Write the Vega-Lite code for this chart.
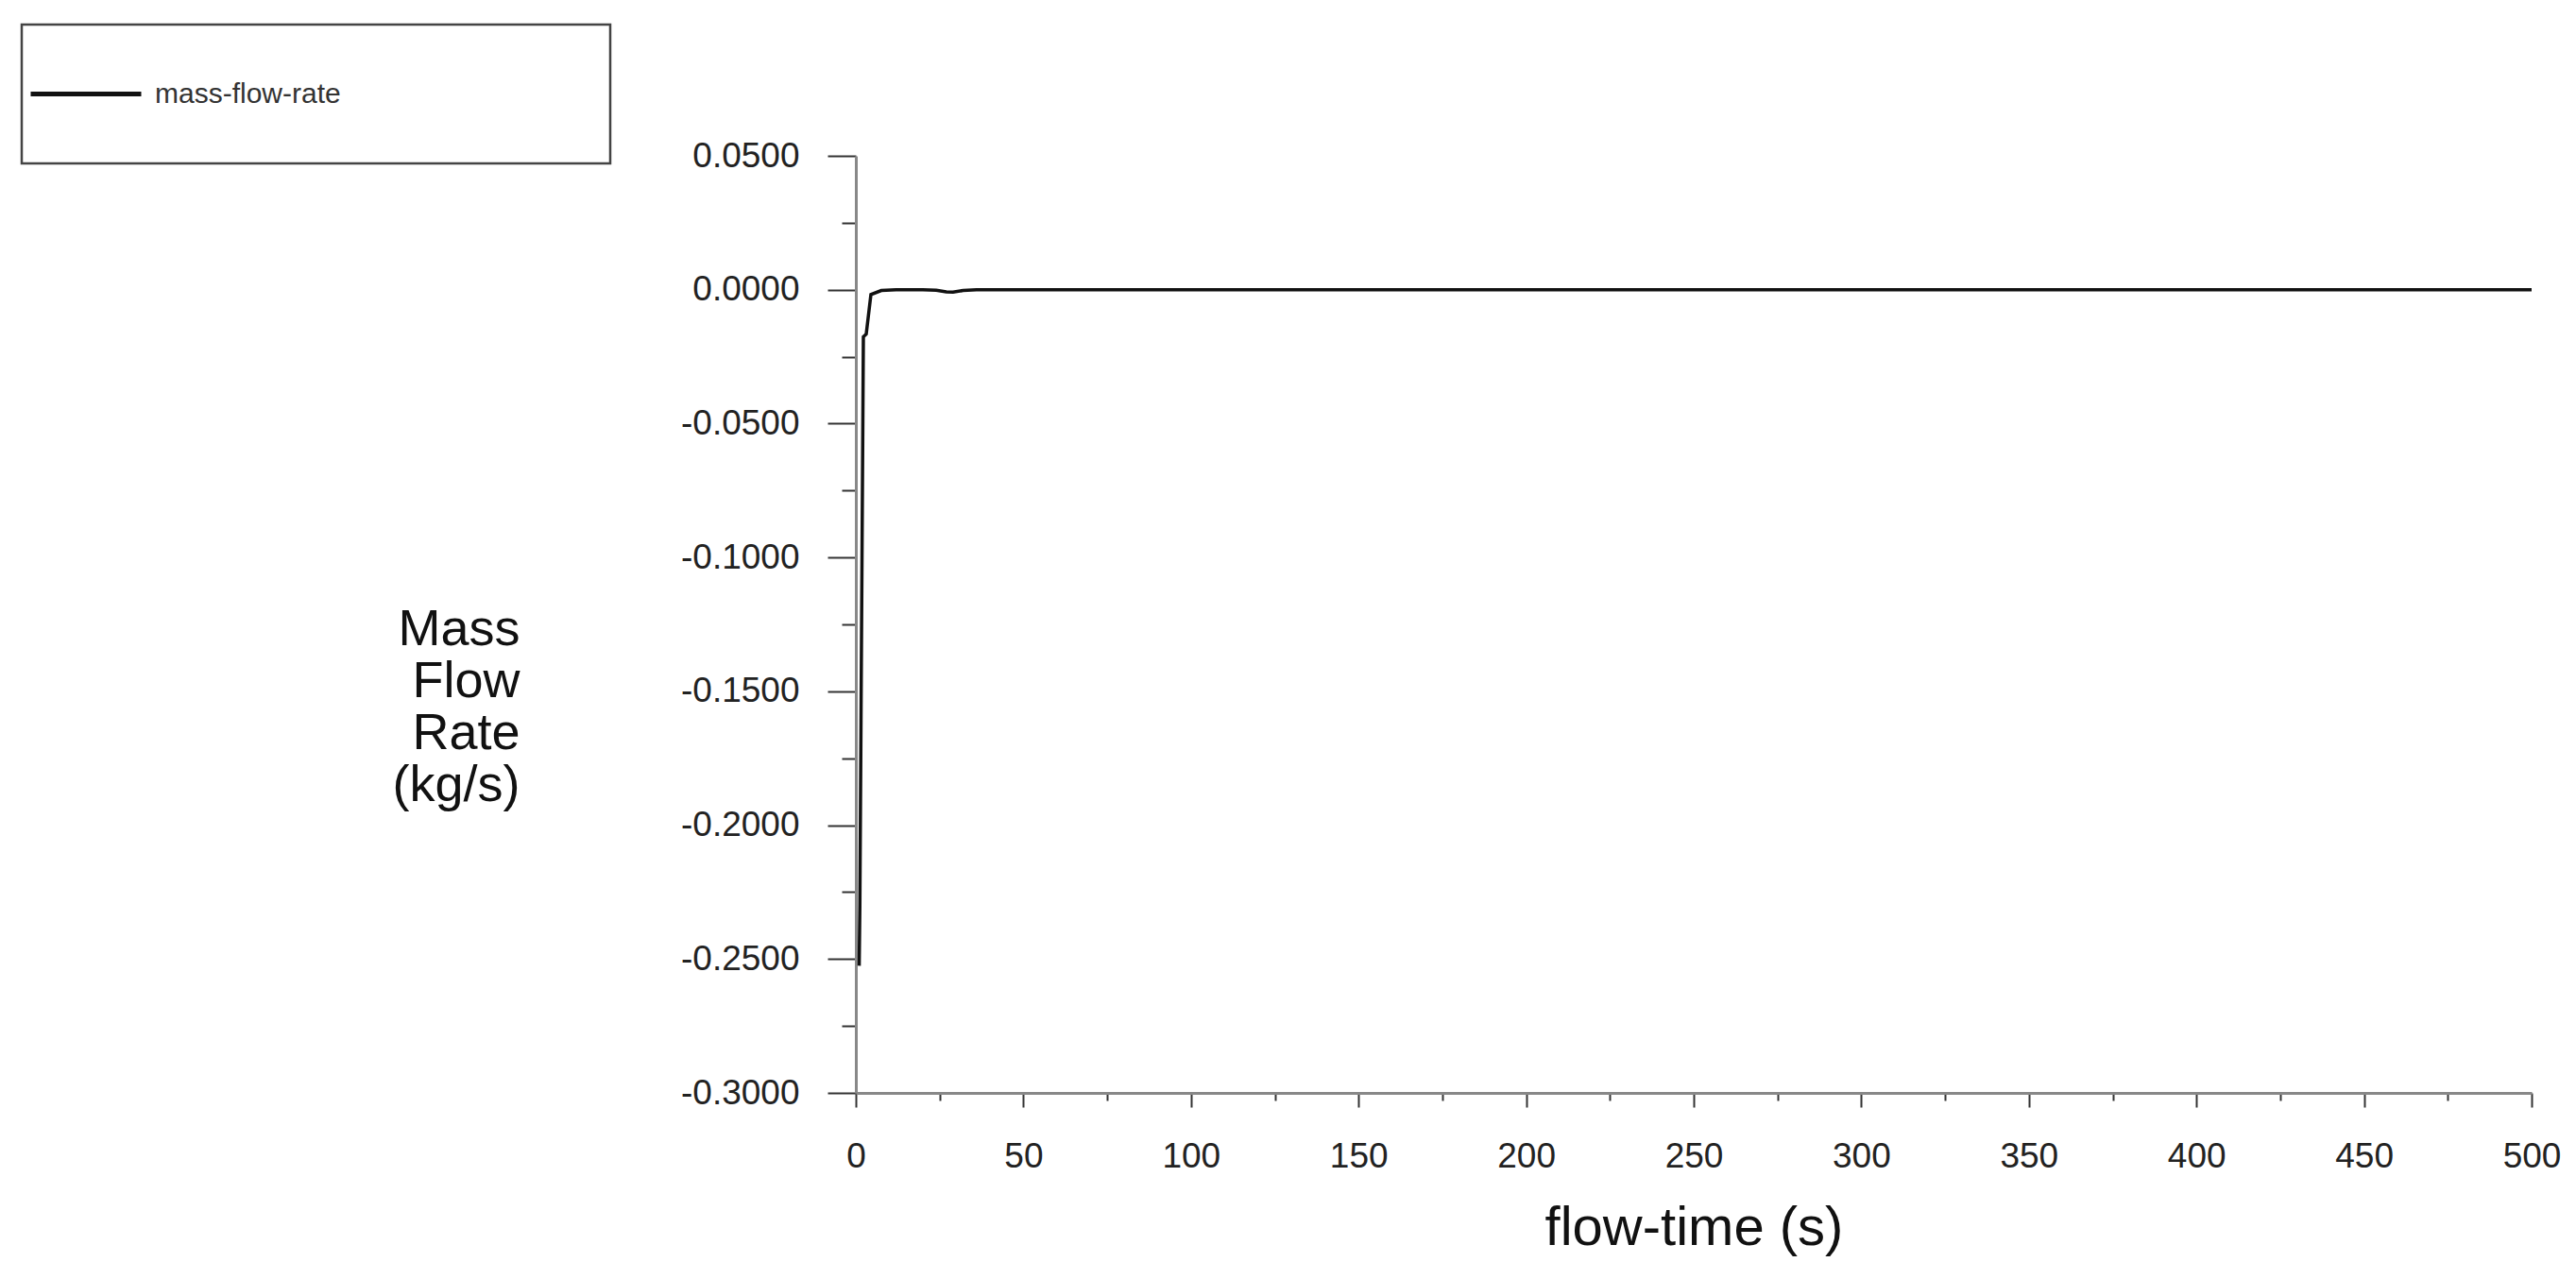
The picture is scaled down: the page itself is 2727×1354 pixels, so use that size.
{
  "$schema": "https://vega.github.io/schema/vega-lite/v6.json",
  "width": 1774,
  "height": 992,
  "autosize": "none",
  "padding": {"left": 906, "top": 165, "right": 47, "bottom": 197},
  "background": "white",
  "config": {"view": {"stroke": null}, "font": "Liberation Sans"},
  "data": {
    "values": [
      {"t": 1.0, "m": -0.2525, "s": "mass-flow-rate"},
      {"t": 1.2, "m": -0.2300, "s": "mass-flow-rate"},
      {"t": 2.25, "m": -0.0176, "s": "mass-flow-rate"},
      {"t": 3.1, "m": -0.0166, "s": "mass-flow-rate"},
      {"t": 4.5, "m": -0.0018, "s": "mass-flow-rate"},
      {"t": 7.6, "m": -0.0003, "s": "mass-flow-rate"},
      {"t": 12, "m": 0.0, "s": "mass-flow-rate"},
      {"t": 20, "m": 0.0, "s": "mass-flow-rate"},
      {"t": 24, "m": -0.0002, "s": "mass-flow-rate"},
      {"t": 27, "m": -0.0008, "s": "mass-flow-rate"},
      {"t": 29, "m": -0.0009, "s": "mass-flow-rate"},
      {"t": 32, "m": -0.0003, "s": "mass-flow-rate"},
      {"t": 36, "m": 0.0, "s": "mass-flow-rate"},
      {"t": 50, "m": 0.0, "s": "mass-flow-rate"},
      {"t": 100, "m": 0.0, "s": "mass-flow-rate"},
      {"t": 200, "m": 0.0, "s": "mass-flow-rate"},
      {"t": 300, "m": 0.0, "s": "mass-flow-rate"},
      {"t": 400, "m": 0.0, "s": "mass-flow-rate"},
      {"t": 500, "m": 0.0, "s": "mass-flow-rate"}
    ]
  },
  "mark": {"type": "line", "strokeWidth": 3.5},
  "encoding": {
    "x": {
      "field": "t",
      "type": "quantitative",
      "scale": {"domain": [0, 500], "nice": false, "zero": false},
      "axis": {
        "values": [0, 25, 50, 75, 100, 125, 150, 175, 200, 225, 250, 275, 300, 325, 350, 375, 400, 425, 450, 475, 500],
        "labelExpr": "datum.value % 50 == 0 ? format(datum.value, 'd') : ''",
        "tickSize": {"condition": {"test": "datum.value % 50 == 0", "value": 15}, "value": 8},
        "grid": false,
        "domainColor": "#888888",
        "domainWidth": 3,
        "tickColor": "#333333",
        "tickWidth": 2,
        "labelFontSize": 37,
        "labelColor": "#222222",
        "labelBaseline": "alphabetic",
        "labelPadding": 63,
        "labelFlush": false,
        "labelOverlap": false,
        "title": "flow-time (s)",
        "titleFontSize": 58,
        "titleFontWeight": "normal",
        "titleColor": "#111111",
        "titleBaseline": "alphabetic",
        "titleY": 160
      }
    },
    "y": {
      "field": "m",
      "type": "quantitative",
      "scale": {"domain": [-0.3, 0.05], "nice": false, "zero": false},
      "axis": {
        "values": [-0.3, -0.275, -0.25, -0.225, -0.2, -0.175, -0.15, -0.125, -0.1, -0.075, -0.05, -0.025, 0, 0.025, 0.05],
        "labelExpr": "abs(datum.value * 20 - round(datum.value * 20)) < 0.0001 ? (datum.value < -0.00001 ? '-' : '') + format(abs(datum.value), '.4f') : ''",
        "tickSize": {"condition": {"test": "abs(datum.value * 20 - round(datum.value * 20)) < 0.0001", "value": 30}, "value": 15},
        "grid": false,
        "domainColor": "#888888",
        "domainWidth": 3,
        "tickColor": "#333333",
        "tickWidth": 2,
        "labelFontSize": 37,
        "labelColor": "#222222",
        "labelPadding": 30,
        "labelFlush": false,
        "labelOverlap": false,
        "title": ["Mass", "Flow", "Rate", "(kg/s)"],
        "titleAngle": 0,
        "titleAlign": "right",
        "titleBaseline": "alphabetic",
        "titleX": -356,
        "titleY": 517,
        "titleFontSize": 54,
        "titleLineHeight": 55,
        "titleFontWeight": "normal",
        "titleColor": "#111111"
      }
    },
    "color": {
      "field": "s",
      "type": "nominal",
      "scale": {"range": ["#111111"]},
      "legend": {
        "orient": "none",
        "legendX": -883,
        "legendY": -139,
        "title": null,
        "symbolType": "stroke",
        "symbolSize": 13689,
        "symbolStrokeWidth": 5,
        "labelFontSize": 30,
        "labelColor": "#333333",
        "labelOffset": 12,
        "labelLimit": 2000,
        "clipHeight": 133,
        "padding": 7,
        "strokeColor": "#444444",
        "fillColor": "white",
        "encode": {
          "entries": {"update": {"width": {"value": 609}, "height": {"value": 133}}},
          "legend": {"update": {"strokeWidth": {"value": 2.5}}}
        }
      }
    }
  }
}
